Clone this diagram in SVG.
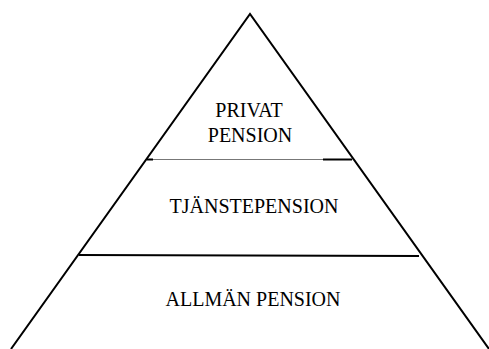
<svg xmlns="http://www.w3.org/2000/svg" width="489" height="349" viewBox="0 0 489 349">
<style>
.l{stroke:#000;stroke-width:2;fill:none}
.t{font-family:"Liberation Serif","Times New Roman",serif;font-size:20px;fill:#000;text-anchor:middle}
</style>
<rect width="489" height="349" fill="#fff"/>
<g id="connectors">
<polyline class="l" points="11,349 250,14 489,349"/>
<line x1="147" y1="159.5" x2="353" y2="159.5" stroke="#777" stroke-width="1"/>
<line class="l" x1="147" y1="159.5" x2="153" y2="159.5"/>
<line class="l" x1="323" y1="159.5" x2="352" y2="159.5"/>
<line class="l" x1="79" y1="255" x2="419" y2="256"/>
</g>
<g id="privat"><text class="t" x="249" y="117">PRIVAT</text><text class="t" x="250" y="142">PENSION</text></g>
<g id="tjanste"><text class="t" x="254" y="213">TJÄNSTEPENSION</text></g>
<g id="allman"><text class="t" x="253" y="306">ALLMÄN PENSION</text></g>
</svg>
